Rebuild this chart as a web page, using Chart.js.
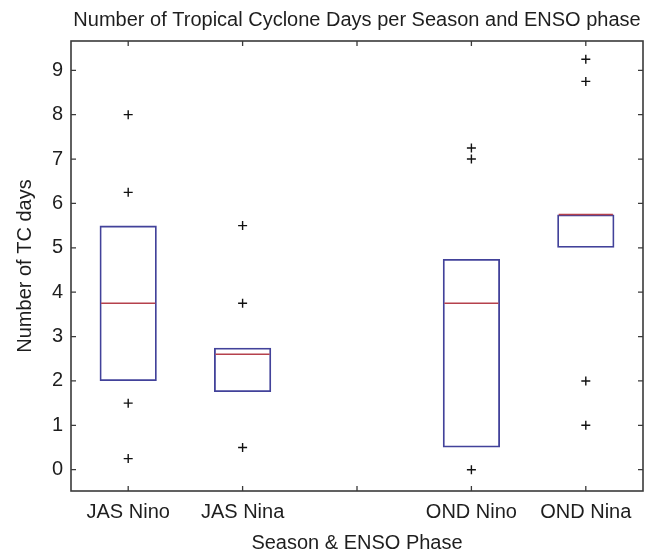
<!DOCTYPE html>
<html>
<head>
<meta charset="utf-8">
<script src="https://cdn.jsdelivr.net/npm/chart.js@4"></script>
<style>
  html, body { margin: 0; padding: 0; background: #fff; }
  #wrap { width: 651px; height: 556px; }
</style>
</head>
<body>
<div id="wrap"><canvas id="chart"></canvas></div>
<script>
// CATEGORIES (third slot is an empty gap in the original figure) //
const categories = ['JAS Nino', 'JAS Nina', '', 'OND Nino', 'OND Nina'];

// BOX LIMITS (25th / 75th percentile) //
const boxLow = [2, 1.75, null, 0.5, 5];
const boxHigh = [5.5, 2.75, null, 4.75, 5.75];

// MEDIANS //
const medians = [3.75, 2.6, null, 3.75, 5.75];

// OUTLIERS PER CATEGORY //
const outliers = [
  [8, 6.25, 1.5, 0.25],
  [5.5, 3.75, 0.5],
  [],
  [7.25, 7, 0],
  [9.25, 8.75, 2, 1]
];

// Y TICK VALUES //
const yTicks = [0, 1, 2, 3, 4, 5, 6, 7, 8, 9];

const FONT = {family: '"Liberation Sans", Arial, sans-serif', size: 20};
const TEXT_COLOR = '#1e1e1e';
const BOX_COLOR = '#42429a';
const MEDIAN_COLOR = '#b5414c';
const FRAME_COLOR = '#3a3a3a';

const boxData = categories.map((c, i) => (boxLow[i] == null) ? null : [boxLow[i], boxHigh[i]]);
const outlierData = [];
outliers.forEach((vals, i) => vals.forEach(v => outlierData.push({x: categories[i], y: v})));

/**
 * medians + matlab style frame with inward ticks on all four sides
 */
const boxplotExtras = {
  id: 'boxplotExtras',
  afterDatasetsDraw(chart) {
    const ctx = chart.ctx;
    const yScale = chart.scales.y;
    const bars = chart.getDatasetMeta(0).data;

    // MEDIANS //
    ctx.save();
    ctx.strokeStyle = MEDIAN_COLOR;
    ctx.lineWidth = 1.6;
    medians.forEach((m, i) => {
      if (m == null || !bars[i]) { return; }
      const bar = bars[i];
      const y = yScale.getPixelForValue(m);
      ctx.beginPath();
      ctx.moveTo(bar.x - bar.width / 2 + 1.5, y);
      ctx.lineTo(bar.x + bar.width / 2 - 1.5, y);
      ctx.stroke();
    });
    ctx.restore();
  },
  afterDraw(chart) {
    const ctx = chart.ctx;
    const {left, right, top, bottom} = chart.chartArea;
    const xScale = chart.scales.x;
    const yScale = chart.scales.y;
    const tickLen = 5;

    ctx.save();
    ctx.strokeStyle = FRAME_COLOR;
    ctx.lineWidth = 1.6;
    ctx.strokeRect(left, top, right - left, bottom - top);

    ctx.lineWidth = 1.3;
    ctx.beginPath();
    xScale.ticks.forEach((t, i) => {
      const x = xScale.getPixelForTick(i);
      ctx.moveTo(x, bottom);
      ctx.lineTo(x, bottom - tickLen);
      ctx.moveTo(x, top);
      ctx.lineTo(x, top + tickLen);
    });
    yScale.ticks.forEach((t) => {
      const y = yScale.getPixelForValue(t.value);
      ctx.moveTo(left, y);
      ctx.lineTo(left + tickLen, y);
      ctx.moveTo(right, y);
      ctx.lineTo(right - tickLen, y);
    });
    ctx.stroke();
    ctx.restore();
  }
};

new Chart(document.getElementById('chart'), {
  type: 'bar',
  data: {
    labels: categories,
    datasets: [
      {
        type: 'bar',
        data: boxData,
        backgroundColor: 'rgba(0,0,0,0)',
        borderColor: BOX_COLOR,
        borderWidth: 1.8,
        borderSkipped: false,
        categoryPercentage: 1.0,
        barPercentage: 0.5,
        grouped: false
      },
      {
        type: 'scatter',
        data: outlierData,
        pointStyle: 'cross',
        radius: 4.5,
        borderColor: '#111',
        borderWidth: 1.4,
        backgroundColor: '#111'
      }
    ]
  },
  options: {
    responsive: true,
    maintainAspectRatio: false,
    animation: false,
    devicePixelRatio: 1,
    layout: {padding: {top: 0, right: 8, bottom: 0, left: 0}},
    plugins: {
      legend: {display: false},
      tooltip: {enabled: false},
      title: {
        display: true,
        text: 'Number of Tropical Cyclone Days per Season and ENSO phase',
        fullSize: false,
        color: TEXT_COLOR,
        font: {family: FONT.family, size: 20, weight: 'normal'},
        padding: {top: 8, bottom: 9}
      }
    },
    scales: {
      x: {
        type: 'category',
        offset: true,
        grid: {display: false, drawTicks: false},
        border: {display: false},
        ticks: {color: TEXT_COLOR, font: FONT, padding: 9, maxRotation: 0, autoSkip: false},
        title: {
          display: true,
          text: 'Season & ENSO Phase',
          color: TEXT_COLOR,
          font: FONT,
          padding: {top: 0, bottom: 1}
        },
        afterFit(scale) { scale.height = 65; }
      },
      y: {
        type: 'linear',
        min: -0.48,
        max: 9.66,
        grid: {display: false, drawTicks: false},
        border: {display: false},
        ticks: {
          stepSize: 1,
          includeBounds: false,
          color: TEXT_COLOR,
          font: FONT,
          padding: 8
        },
        afterBuildTicks(scale) { scale.ticks = yTicks.map(v => ({value: v})); },
        title: {
          display: true,
          text: 'Number of TC days',
          color: TEXT_COLOR,
          font: FONT,
          padding: {top: 13, bottom: 0}
        },
        afterFit(scale) { scale.width = 71; }
      }
    }
  },
  plugins: [boxplotExtras]
});
</script>
</body>
</html>
